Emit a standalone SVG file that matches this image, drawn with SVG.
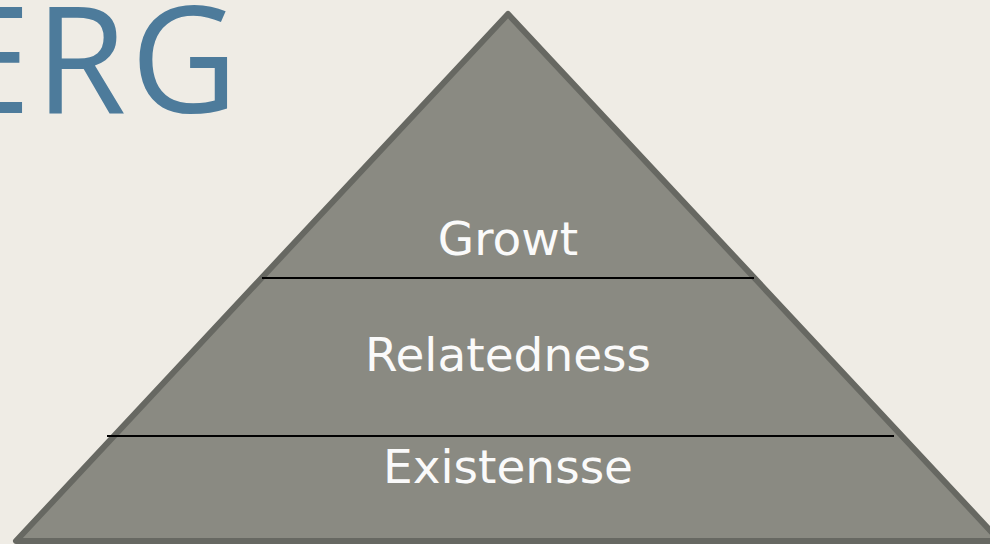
<svg xmlns="http://www.w3.org/2000/svg" width="990" height="544" viewBox="0 0 990 544">
  <style>
    .lbl { font-family: "DejaVu Sans", Verdana, sans-serif; font-size: 47px; fill: #FAFAFA; text-anchor: middle; }
    .div { stroke: #000000; stroke-width: 2; }
    .title { font-family: "Open Sans", "Liberation Sans", sans-serif; font-weight: 400; font-size: 148px; letter-spacing: 4px; fill: #4D7B9B; text-anchor: end; }
  </style>
  <rect x="0" y="0" width="990" height="544" fill="#EFECE5"/>
  <text class="title" x="242" y="113">ERG</text>
  <g id="pyramid">
    <polygon points="508,14 16,541 1000,541" fill="#8A8A82" stroke="#676862" stroke-width="6" stroke-linejoin="round"/>
  </g>
  <g id="connectors">
    <line class="div" x1="262" y1="278" x2="754" y2="278"/>
    <line class="div" x1="107" y1="436" x2="894" y2="436"/>
  </g>
  <g id="growth"><text class="lbl" x="508" y="255">Growt</text></g>
  <g id="relatedness"><text class="lbl" x="508" y="371">Relatedness</text></g>
  <g id="existence"><text class="lbl" x="508" y="483">Existensse</text></g>
</svg>
